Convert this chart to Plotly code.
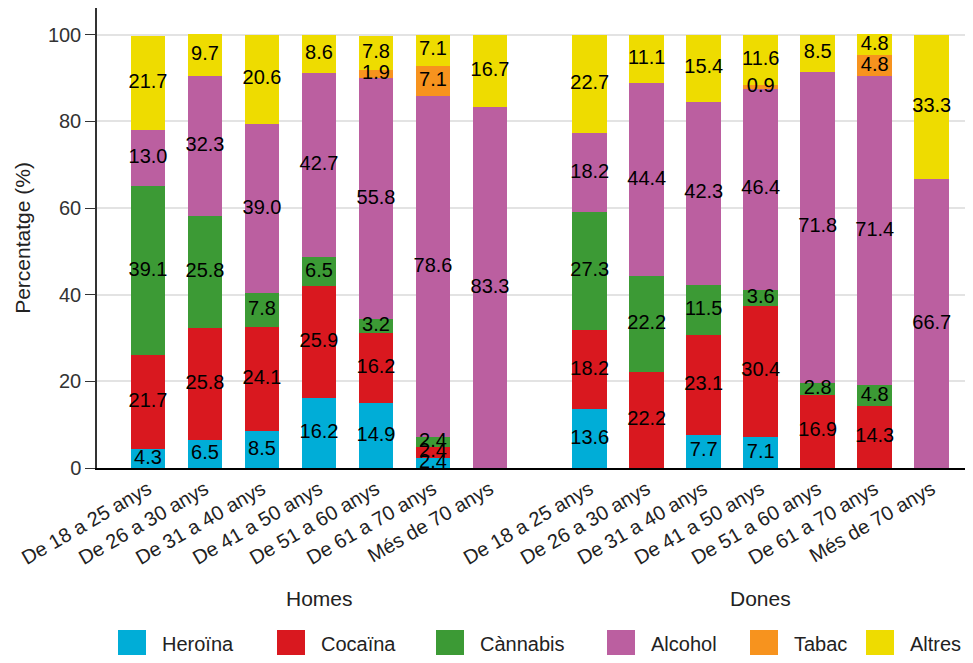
import numpy as np
import plotly.graph_objects as go

# ---------------- data ----------------
ages = ["De 18 a 25 anys", "De 26 a 30 anys", "De 31 a 40 anys", "De 41 a 50 anys",
        "De 51 a 60 anys", "De 61 a 70 anys", "Més de 70 anys"]
sexes = ["Homes", "Dones"]
substances = ["Heroïna", "Cocaïna", "Cànnabis", "Alcohol", "Tabac", "Altres"]
colors = ["#00ADD7", "#D9181F", "#3C9A35", "#BB5FA0", "#F7931E", "#EEDC00"]

homes_heroina = [4.3, 6.5, 8.5, 16.2, 14.9, 2.4, 0]
homes_cocaina = [21.7, 25.8, 24.1, 25.9, 16.2, 2.4, 0]
homes_cannabis = [39.1, 25.8, 7.8, 6.5, 3.2, 2.4, 0]
homes_alcohol = [13.0, 32.3, 39.0, 42.7, 55.8, 78.6, 83.3]
homes_tabac = [0, 0, 0, 0, 1.9, 7.1, 0]
homes_altres = [21.7, 9.7, 20.6, 8.6, 7.8, 7.1, 16.7]

dones_heroina = [13.6, 0, 7.7, 7.1, 0, 0, 0]
dones_cocaina = [18.2, 22.2, 23.1, 30.4, 16.9, 14.3, 0]
dones_cannabis = [27.3, 22.2, 11.5, 3.6, 2.8, 4.8, 0]
dones_alcohol = [18.2, 44.4, 42.3, 46.4, 71.8, 71.4, 66.7]
dones_tabac = [0, 0, 0, 0.9, 0, 4.8, 0]
dones_altres = [22.7, 11.1, 15.4, 11.6, 8.5, 4.8, 33.3]

y_ticks = [0, 20, 40, 60, 80, 100]

series = {
    "Homes": [homes_heroina, homes_cocaina, homes_cannabis, homes_alcohol, homes_tabac, homes_altres],
    "Dones": [dones_heroina, dones_cocaina, dones_cannabis, dones_alcohol, dones_tabac, dones_altres],
}

# ---------------- layout constants ----------------
FONT = "Liberation Sans, Arial, sans-serif"
OFF = 8                      # page body margin
W, H = 957, 647
ML, MR, MT, MB = 97 - OFF, 0, 0, 647 - 460
PW, PH = W - ML - MR, H - MT - MB
GAP = 1.75
BAR_W = 0.61
UNIT = 57.0

n = len(ages)
offsets = {"Homes": 0.0, "Dones": n + GAP - 1}

fig = go.Figure()
lab_x, lab_y, lab_t = [], [], []
for sex in sexes:
    xs = np.arange(n) + offsets[sex]
    vals = np.array(series[sex], dtype=float)
    cum = np.cumsum(vals, axis=0)
    for k, name in enumerate(substances):
        fig.add_trace(go.Bar(
            x=xs, y=vals[k], width=BAR_W, name=name,
            marker=dict(color=colors[k], line=dict(width=0)),
            showlegend=False, hoverinfo="skip"))
        centers = cum[k] - vals[k] / 2
        for i in range(n):
            if vals[k][i] > 0:
                lab_x.append(xs[i]); lab_y.append(centers[i]); lab_t.append(f"{vals[k][i]:.1f}")

fig.add_trace(go.Scatter(x=lab_x, y=lab_y, text=lab_t, mode="text",
                         textfont=dict(family=FONT, size=20, color="black"),
                         showlegend=False, hoverinfo="skip"))

tickvals = list(np.arange(n) + offsets["Homes"]) + list(np.arange(n) + offsets["Dones"])
ticktext = ages + ages

x_left = -(51 / UNIT)
x_right = x_left + PW / UNIT

fig.update_layout(
    width=W, height=H, barmode="stack",
    margin=dict(l=ML, r=MR, t=MT, b=MB),
    plot_bgcolor="white", paper_bgcolor="white",
    font=dict(family=FONT, color="#222"),
    xaxis=dict(range=[x_left, x_right], tickvals=tickvals, ticktext=ticktext,
               tickangle=-30, tickfont=dict(size=20, color="#222"),
               showline=True, linecolor="black", linewidth=1.5,
               showgrid=False, zeroline=False, ticks=""),
    yaxis=dict(range=[0, 106.2], tickvals=y_ticks, tickfont=dict(size=20, color="#333"),
               title=dict(text="Percentatge (%)", font=dict(size=21, color="#222"), standoff=12),
               showline=True, linecolor="#333", linewidth=1.5,
               ticks="outside", ticklen=10, tickcolor="#333", tickwidth=1.2,
               showgrid=True, gridcolor="#E3E3E3", gridwidth=1.5, zeroline=False),
)

# facet labels
for sex in sexes:
    fig.add_annotation(x=offsets[sex] + (n - 1) / 2, y=(PH - (598 - OFF)) / PH, xref="x", yref="paper",
                       xanchor="center", yanchor="middle",
                       text=sex, showarrow=False, font=dict(family=FONT, size=21, color="#222"))

# legend (drawn manually to get large keys)
leg_left = [118, 277, 436, 607, 750, 866]
SQ = 28
cy = 644 - OFF
for k, name in enumerate(substances):
    lx = leg_left[k] - OFF
    x0 = (lx - ML) / PW
    x1 = (lx + SQ - ML) / PW
    y0 = (PH - (cy + SQ / 2)) / PH
    y1 = (PH - (cy - SQ / 2)) / PH
    fig.add_shape(type="rect", xref="paper", yref="paper", x0=x0, x1=x1, y0=y0, y1=y1,
                  fillcolor=colors[k], line=dict(width=0))
    fig.add_annotation(x=(lx + SQ + 14 - ML) / PW, y=(PH - cy) / PH,
                       xref="paper", yref="paper", xanchor="left", yanchor="middle",
                       text=name, showarrow=False, font=dict(family=FONT, size=20, color="#222"))

fig.write_html("out.html")
